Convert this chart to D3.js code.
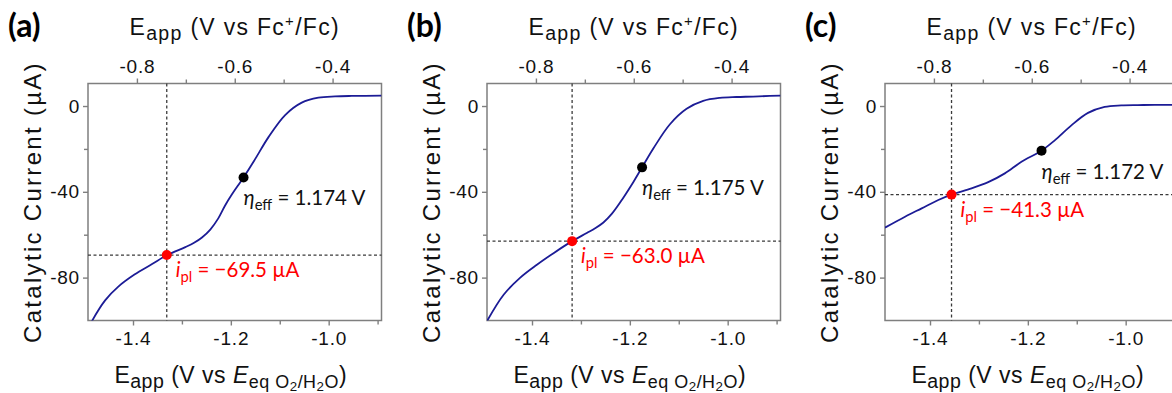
<!DOCTYPE html>
<html>
<head>
<meta charset="utf-8">
<script src="https://cdn.jsdelivr.net/npm/d3@7"></script>
<style>
  body { margin: 0; background: #fff; }
  text { white-space: pre; }
</style>
</head>
<body>
<div class="canvas"></div>
<script>
// axis ranges
const eqDomain = [-1.492, -0.892];   // V vs E_eq O2/H2O
const fcDomain = [-0.9, -0.3];       // V vs Fc+/Fc
const curDomain = [-100, 10.5];      // uA

// ticks
const bottomTicks = [-1.4, -1.2, -1.0];
const bottomTickLabels = ['-1.4', '-1.2', '-1.0'];
const bottomMinor = [-1.3, -1.1, -0.9];
const topTicks = [-0.8, -0.6, -0.4];
const topTickLabels = ['-0.8', '-0.6', '-0.4'];
const topMinor = [-0.7, -0.5];
const leftTicks = [0, -40, -80];
const leftTickLabels = ['0', '-40', '-80'];
const leftMinor = [-20, -60];

const panelNames = ['(a)', '(b)', '(c)'];

// curves
const potA = [-1.492, -1.484, -1.457, -1.430, -1.397, -1.361, -1.331, -1.293, -1.276, -1.259, -1.242, -1.226, -1.212, -1.198, -1.174, -1.151, -1.123, -1.089, -1.055, -1.021, -0.987, -0.953, -0.892];
const curA = [-104, -100.3, -90.6, -84.2, -78.6, -73.7, -69.6, -65.8, -63.9, -61.3, -57.6, -52.5, -46.5, -41.3, -33.3, -25.0, -14.5, -4.2, 1.6, 3.9, 4.5, 4.7, 4.8];

const potB = [-1.492, -1.458, -1.424, -1.390, -1.356, -1.318, -1.288, -1.271, -1.254, -1.237, -1.220, -1.193, -1.175, -1.152, -1.118, -1.084, -1.050, -1.016, -0.982, -0.948, -0.914, -0.892];
const curB = [-100.3, -88.0, -80.0, -74.0, -68.6, -63.0, -59.2, -57.0, -54.3, -50.3, -45.0, -35.5, -28.6, -19.8, -8.5, -1.3, 2.4, 3.8, 4.2, 4.4, 4.7, 4.8];

const potC = [-1.492, -1.451, -1.417, -1.383, -1.356, -1.315, -1.281, -1.247, -1.213, -1.172, -1.145, -1.111, -1.077, -1.043, -1.009, -0.975, -0.941, -0.892];
const curC = [-56.7, -51.6, -47.7, -43.8, -41.3, -38.4, -35.5, -31.4, -26.0, -20.8, -16.0, -9.0, -3.2, -0.4, 0.3, 0.45, 0.5, 0.5];

// plateau (red) and effective overpotential (black) points
const plPot = [-1.331, -1.318, -1.356];
const plCur = [-69.5, -63.0, -41.3];
const plLabels = ['\u221269.5', '\u221263.0', '\u221241.3'];
const effPot = [-1.174, -1.175, -1.172];
const effCur = [-33.3, -28.6, -20.8];
const effLabels = ['1.174', '1.175', '1.172'];

const pots = [potA, potB, potC];
const curs = [curA, curB, curC];

const width = 1172, height = 393;
const panelX = [88, 487, 885];
const plotTop = 83.5, plotW = 293.5, plotH = 237;
const axisColor = '#7f7f7f';
const sansFont = '"Liberation Sans", Arial, sans-serif';
const labelFont = 'Lato, "Noto Sans", sans-serif';

const svg = d3.select('.canvas').append('svg')
    .attr('width', width)
    .attr('height', height);

// text with sub/superscripts, parts = [[string, kind], ...]
const kinds = {
    n:   { scale: 1,    shift: 0,     italic: false },
    i:   { scale: 1,    shift: 0,     italic: true },
    sub: { scale: 0.85, shift: 0.22,  italic: false },
    bsub:{ scale: 0.78, shift: 0.22,  italic: false },
    sub2:{ scale: 0.58, shift: 0.34,  italic: false },
    sup: { scale: 0.65, shift: -0.38, italic: false },
    lsub:{ scale: 0.72, shift: 0.24,  italic: false }
};
function rich(text, parts, size) {
    let cur = 0;
    parts.forEach(([s, k]) => {
        const st = kinds[k];
        const off = st.shift * size;
        text.append('tspan')
            .attr('dy', off - cur)
            .attr('font-size', st.scale * size)
            .attr('font-style', st.italic ? 'italic' : null)
            .text(s);
        cur = off;
    });
    return text;
}

function styleAxis(sel) {
    sel.select('.domain').remove();
    sel.selectAll('.tick line').attr('stroke', axisColor).attr('stroke-width', 1.4);
    sel.selectAll('.tick text')
        .attr('fill', '#111')
        .attr('font-family', sansFont)
        .attr('font-size', 19)
        .attr('letter-spacing', 0.8);
}

for (let p = 0; p < 3; p++) {
    const x = d3.scaleLinear().domain(eqDomain).range([0, plotW]);
    const xTop = d3.scaleLinear().domain(fcDomain).range([0, plotW]);
    const y = d3.scaleLinear().domain(curDomain).range([plotH, 0]);

    const graph = svg.append('g')
        .attr('transform', `translate(${panelX[p]}, ${plotTop})`);

    graph.append('clipPath').attr('id', `clip${p}`)
        .append('rect').attr('width', plotW).attr('height', plotH);

    // axes
    graph.append('g')
        .attr('transform', `translate(0, ${plotH})`)
        .call(d3.axisBottom(x).tickValues(bottomTicks).tickSize(5).tickPadding(6.5)
            .tickFormat((d, i) => bottomTickLabels[i]))
        .call(styleAxis);
    graph.append('g')
        .attr('transform', `translate(0, ${plotH})`)
        .call(d3.axisBottom(x).tickValues(bottomMinor).tickSize(4).tickFormat(''))
        .call(styleAxis);

    graph.append('g')
        .call(d3.axisTop(xTop).tickValues(topTicks).tickSize(5).tickPadding(5.5)
            .tickFormat((d, i) => topTickLabels[i]))
        .call(styleAxis);
    graph.append('g')
        .call(d3.axisTop(xTop).tickValues(topMinor).tickSize(4).tickFormat(''))
        .call(styleAxis);

    graph.append('g')
        .call(d3.axisLeft(y).tickValues(leftTicks).tickSize(5).tickPadding(3)
            .tickFormat((d, i) => leftTickLabels[i]))
        .call(styleAxis);
    graph.append('g')
        .call(d3.axisLeft(y).tickValues(leftMinor).tickSize(4).tickFormat(''))
        .call(styleAxis);

    graph.append('rect')
        .attr('width', plotW)
        .attr('height', plotH)
        .attr('fill', 'none')
        .attr('stroke', axisColor)
        .attr('stroke-width', 1.5);

    // dashed guide lines
    graph.append('line')
        .attr('x1', x(plPot[p])).attr('x2', x(plPot[p]))
        .attr('y1', 0).attr('y2', plotH)
        .attr('stroke', '#3a3a3a').attr('stroke-width', 1.3)
        .attr('stroke-dasharray', '3,2.5');
    graph.append('line')
        .attr('x1', 0).attr('x2', plotW)
        .attr('y1', y(plCur[p])).attr('y2', y(plCur[p]))
        .attr('stroke', '#3a3a3a').attr('stroke-width', 1.3)
        .attr('stroke-dasharray', '3,2.5');

    // curve
    const line = d3.line()
        .x(d => x(d[0]))
        .y(d => y(d[1]))
        .curve(d3.curveCatmullRom.alpha(0.5));
    graph.append('path')
        .datum(pots[p].map((v, i) => [v, curs[p][i]]))
        .attr('clip-path', `url(#clip${p})`)
        .attr('fill', 'none')
        .attr('stroke', '#1c1c96')
        .attr('stroke-width', 1.8)
        .attr('d', line);

    // points
    graph.append('circle')
        .attr('cx', x(effPot[p])).attr('cy', y(effCur[p]))
        .attr('r', 5).attr('fill', '#000');
    graph.append('circle')
        .attr('cx', x(plPot[p])).attr('cy', y(plCur[p]))
        .attr('r', 5).attr('fill', '#ff0000');

    // annotations
    rich(graph.append('text')
        .attr('x', x(effPot[p]))
        .attr('y', y(effCur[p]) + 28)
        .attr('font-family', labelFont)
        .attr('fill', '#111'),
        [['\u03b7', 'i'], ['eff', 'lsub'], [` = ${effLabels[p]} V`, 'n']], 20.5);

    rich(graph.append('text')
        .attr('x', x(plPot[p]) + 9)
        .attr('y', y(plCur[p]) + 22)
        .attr('font-family', labelFont)
        .attr('fill', '#ff0000'),
        [['i', 'i'], ['pl', 'lsub'], [` = ${plLabels[p]} \u00b5A`, 'n']], 20.5);

    // axis titles
    rich(graph.append('text')
        .attr('x', plotW / 2)
        .attr('y', 35 - plotTop)
        .attr('text-anchor', 'middle')
        .attr('font-family', sansFont)
        .attr('letter-spacing', 1.3)
        .attr('fill', '#111'),
        [['E', 'n'], ['app', 'sub'], [' (V vs Fc', 'n'], ['+', 'sup'], ['/Fc)', 'n']], 23);

    rich(graph.append('text')
        .attr('x', plotW / 2 - 4)
        .attr('y', 383 - plotTop)
        .attr('text-anchor', 'middle')
        .attr('font-family', sansFont)
        .attr('letter-spacing', 0.5)
        .attr('fill', '#111'),
        [['E', 'n'], ['app', 'sub'], [' (V vs ', 'n'], ['E', 'i'], ['eq O', 'bsub'], ['2', 'sub2'], ['/H', 'bsub'], ['2', 'sub2'], ['O', 'bsub'], [')', 'n']], 23);

    rich(graph.append('text')
        .attr('transform', `translate(${41 - panelX[0]}, ${plotH / 2}) rotate(-90)`)
        .attr('text-anchor', 'middle')
        .attr('font-family', sansFont)
        .attr('letter-spacing', 2.3)
        .attr('fill', '#111'),
        [['Catalytic Current (\u00b5A)', 'n']], 24);

    // panel letter
    graph.append('text')
        .attr('x', -80)
        .attr('y', 36.5 - plotTop)
        .attr('font-family', labelFont)
        .attr('font-weight', 'bold')
        .attr('font-size', 32)
        .attr('fill', '#000')
        .text(panelNames[p]);
}
</script>
</body>
</html>
